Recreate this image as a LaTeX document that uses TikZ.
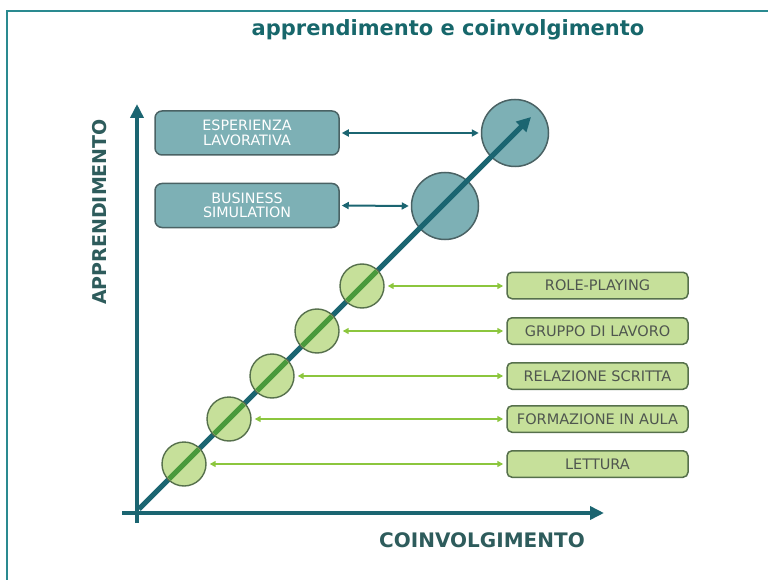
\documentclass[tikz,border=0pt]{standalone}
\usepackage{fontspec}
\setmainfont{DejaVu Sans}
\usetikzlibrary{arrows.meta}
\definecolor{frameC}{HTML}{2A8A90}
\definecolor{axisC}{HTML}{1B6571}
\definecolor{titleC}{HTML}{17676B}
\definecolor{labelC}{HTML}{2E5C5C}
\definecolor{tealFill}{HTML}{7DB0B5}
\definecolor{tealDraw}{HTML}{4A6264}
\definecolor{greenFill}{HTML}{C6E09A}
\definecolor{greenDraw}{HTML}{56704C}
\definecolor{greenArrow}{HTML}{8CC63E}
\definecolor{greenLine}{HTML}{4A9A3C}
\definecolor{boxText}{HTML}{4F564F}
\tikzset{
  axisline/.style={draw=axisC, line width=4pt, -{Triangle[width=13pt,length=14pt]}},
  tbox/.style={draw=tealDraw, fill=tealFill, line width=1.5pt, rounded corners=7pt,
    minimum width=184pt, minimum height=44pt, inner sep=0pt, align=center,
    text=white, font=\fontsize{14.3}{14.5}\selectfont},
  tcirc/.style={circle, draw=tealDraw, fill=tealFill, line width=1.5pt, minimum size=67pt, inner sep=0pt},
  gbox/.style={draw=greenDraw, fill=greenFill, line width=1.5pt, rounded corners=5pt,
    minimum width=181pt, minimum height=26.5pt, inner sep=0pt,
    text=boxText, font=\fontsize{14.5}{15}\selectfont},
  gcirc/.style={circle, draw=greenDraw, fill=greenFill, line width=1.4pt, minimum size=44pt, inner sep=0pt},
  tarrow/.style={draw=axisC, line width=2pt, {Triangle[width=7pt,length=7pt]}-{Triangle[width=7pt,length=7pt]}, shorten <=2pt, shorten >=2pt},
  garrow/.style={draw=greenArrow, line width=2pt, {Triangle[width=6pt,length=6pt]}-{Triangle[width=6pt,length=6pt]}, shorten <=3pt, shorten >=3pt},
}
\begin{document}
\begin{tikzpicture}[x=1pt,y=-1pt]
\useasboundingbox (0,0) rectangle (768,580);
\draw[frameC, line width=2pt] (768,11) -- (7,11) -- (7,580);
% title
\node[text=titleC, font=\bfseries\fontsize{21}{24}\selectfont] (title) at (448,30) {apprendimento e coinvolgimento};
% axes
\coordinate (ybot) at (137,523);
\coordinate (ytop) at (137,104);
\coordinate (xleft) at (122,513);
\coordinate (xright) at (604,513);
\draw[axisline] (ybot) -- (ytop);
\draw[axisline] (xleft) -- (xright);
\node[text=labelC, font=\bfseries\fontsize{19}{22}\selectfont, rotate=90] (ylab) at (100,212) {APPRENDIMENTO};
\node[text=labelC, font=\bfseries\fontsize{20}{23}\selectfont] (xlab) at (482,540) {COINVOLGIMENTO};
% big circles
\node[tcirc] (bc1) at (515,133) {};
\node[tcirc] (bc2) at (445,206) {};
% teal boxes
\node[tbox] (tb1) at (247,133) {ESPERIENZA\\LAVORATIVA};
\node[tbox] (tb2) at (247,205.5) {BUSINESS\\SIMULATION};
\draw[tarrow] (tb1.east) -- (bc1.west);
\draw[tarrow] (tb2.east) -- (bc2.west);
% diagonal
\coordinate (dstart) at (139,509);
\coordinate (dend) at (531,117);
\draw[draw=axisC, line width=5pt, -{Triangle[width=14pt,length=14pt]}] (dstart) -- (dend);
% green circles
\node[gcirc] (c1) at (184,464) {};
\node[gcirc] (c2) at (229,419) {};
\node[gcirc] (c3) at (272,376) {};
\node[gcirc] (c4) at (317,331) {};
\node[gcirc] (c5) at (362,286) {};
\foreach \c in {c1,c2,c3,c4,c5}{
  \begin{scope}
    \clip (\c) circle[radius=21pt];
    \draw[greenLine, line width=5pt] (dstart) -- (dend);
  \end{scope}
}
% green boxes
\node[gbox] (b1) at (597.5,464) {LETTURA};
\node[gbox] (b2) at (597.5,419) {FORMAZIONE IN AULA};
\node[gbox] (b3) at (597.5,376) {RELAZIONE SCRITTA};
\node[gbox] (b4) at (597.5,331) {GRUPPO DI LAVORO};
\node[gbox] (b5) at (597.5,285.5) {ROLE-PLAYING};
\draw[garrow] (c1.east) -- (b1.west);
\draw[garrow] (c2.east) -- (b2.west);
\draw[garrow] (c3.east) -- (b3.west);
\draw[garrow] (c4.east) -- (b4.west);
\draw[garrow] (c5.east) -- (c5.east -| b5.west);
\end{tikzpicture}
\end{document}
